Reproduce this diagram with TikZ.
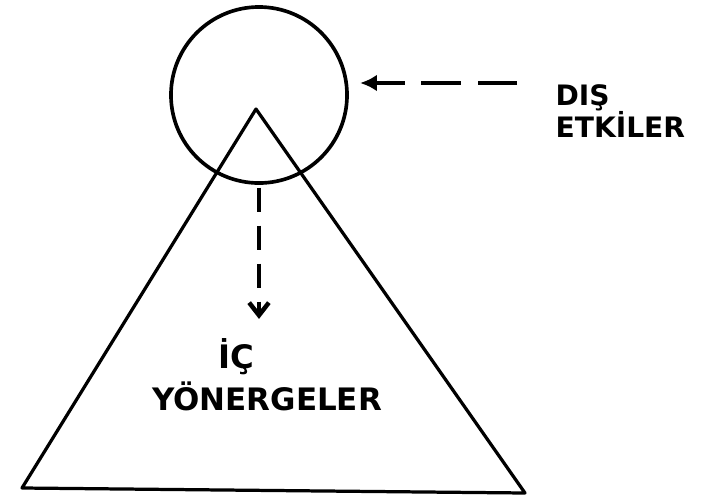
\documentclass[tikz,border=0pt]{standalone}
\usepackage{fontspec}
\newfontfamily\handfont{DejaVu Sans}
\usetikzlibrary{arrows.meta,positioning}

\begin{document}
\begin{tikzpicture}[x=0.025cm,y=-0.025cm,line width=2.3pt,
  every node/.style={inner sep=0pt},
  lbl/.style 2 args={font=\handfont\bfseries\fontsize{#1}{#2}\selectfont}]
\useasboundingbox (0,0) rectangle (706,502);
\node[draw,circle,line width=2.6pt,minimum size=4.4cm] (core) at (259,95) {};
\coordinate (apex) at (256,109);
\coordinate (bl) at (22,488);
\coordinate (br) at (525,493);
\draw[line join=round] (apex) -- (br) -- (bl) -- cycle;

\node[lbl={20}{23},align=left,anchor=north west] (dis) at (554,83) {DIŞ\\ETKİLER};
\node[lbl={23}{27}] (ic) at (236,357) {İÇ};
\node[lbl={22}{26}] (yon) at (267,396) {YÖNERGELER};

\coordinate (ext) at (517,83);
\draw[line width=2.6pt,dash pattern=on 28pt off 12pt,-{Latex[length=12pt,width=12pt]},shorten >=8pt]
  (ext) -- (ext -| core.east);
\draw[line width=3.2pt,dash pattern=on 17pt off 10pt,-{Straight Barb[length=9pt,width=14pt]},shorten <=2pt,shorten >=13pt]
  (core.south) -- (core.south |- ic.north);

\end{tikzpicture}
\end{document}
